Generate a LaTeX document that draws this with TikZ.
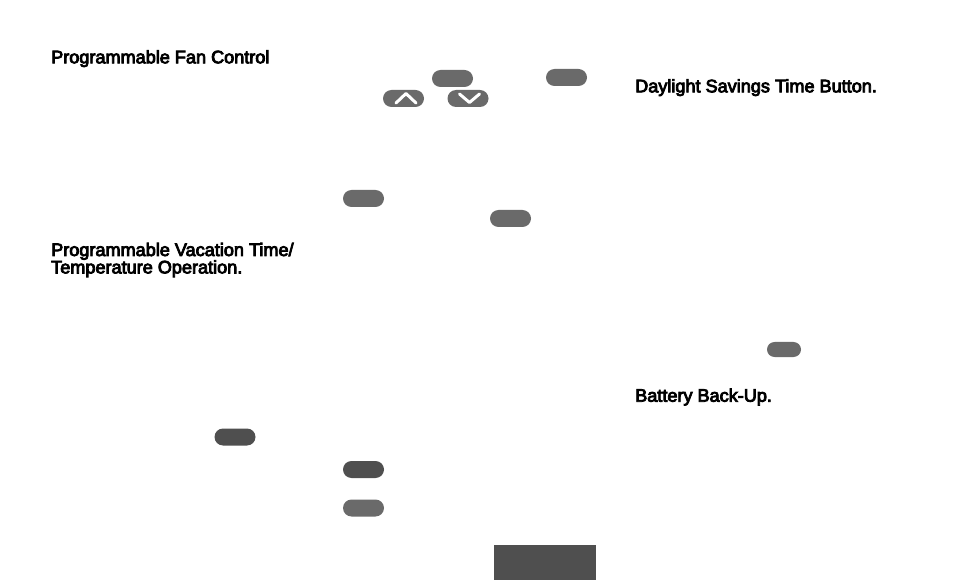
\documentclass[tikz,border=0pt]{standalone}
\usepackage{fontspec}
\newfontfamily\headfont[FakeBold=4.5]{Liberation Sans}
\usetikzlibrary{shapes.misc}
\definecolor{btngray}{HTML}{6A6A6A}
\definecolor{btndark}{HTML}{4F4F4F}
\tikzset{
    heading/.style = {anchor=base west,inner sep=0,align=left,font=\headfont\fontsize{18.1}{17.4}\selectfont},
    btn/.style = {shape=rounded rectangle,inner sep=0,fill=btngray,minimum width=41pt,minimum height=17pt},
    btndk/.style = {btn,fill=btndark},
    btnsm/.style = {btn,minimum width=34pt,minimum height=15pt},
    chevron/.style = {white,line width=3pt,line cap=round,line join=round}
}

\begin{document}
\begin{tikzpicture}[x=1pt,y=-1pt]
        \useasboundingbox (0,0) rectangle (954,580);
        % Headings
        \node[heading] (fan) at (51,63.3) {Programmable Fan Control};
        \node[heading] (vac) at (51,273.4) {Programmable Vacation Time/\\Temperature Operation.};
        \node[heading] (dst) at (635,92.3) {Daylight Savings Time Button.};
        \node[heading] (bat) at (635,401.7) {Battery Back-Up.};
        % Buttons
        \foreach \name/\x/\y in {fanbtn/452.5/78.5,setbtn/566.5/77.5,progbtn/363.5/198.5,holdbtn/510.5/218.5,runbtn/363.5/508}
            \node[btn] (\name) at (\x,\y) {};
        \foreach \name/\x/\y in {vacbtn/235/437,clearbtn/363.5/469.5}
            \node[btndk] (\name) at (\x,\y) {};
        \node[btnsm] (dstbtn) at (784,349.5) {};
        \node[btn] (up) at (403.5,98.5) {};
        \node[btn] (down) at (468,98.5) {};
        % Arrows on the buttons
        \draw[chevron] ([shift={(-7.5,4.5)}]up.center) -- ([shift={(2.5,-5)}]up.center) -- ([shift={(12.5,4.5)}]up.center);
        \draw[chevron] ([shift={(-8.5,-4.5)}]down.center) -- ([shift={(1.5,4)}]down.center) -- ([shift={(11.5,-4.5)}]down.center);
        % Tab
        \node[fill=btndark,inner sep=0,minimum width=102pt,minimum height=35pt,anchor=north west] (tab) at (494,545) {};
    \end{tikzpicture}
\end{document}
